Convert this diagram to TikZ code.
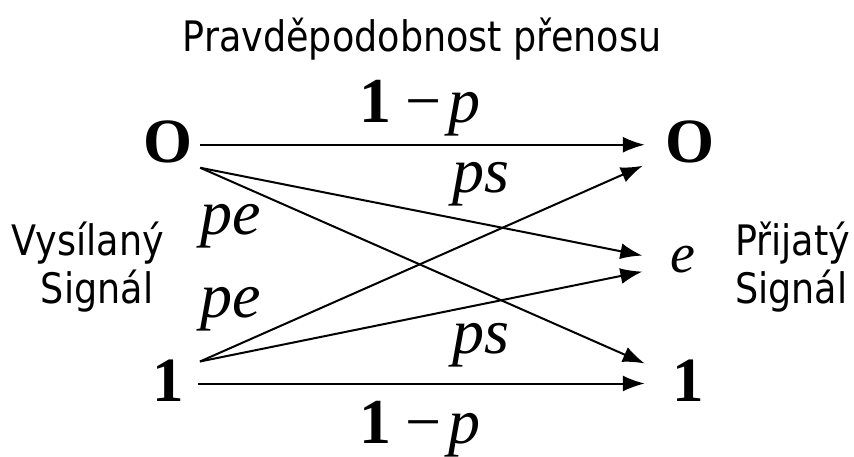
\documentclass[tikz,border=0pt]{standalone}
\usepackage{fontspec}
\setmainfont{Liberation Serif}
\newfontfamily\labsans[FakeStretch=0.87]{DejaVu Sans}
\usepackage{xcolor}
\usepackage{tikz}
\usetikzlibrary{arrows.meta,positioning,calc}
\tikzset{
  sym/.style={inner sep=0pt, anchor=base, font=\fontsize{63}{63}\selectfont\bfseries},
  prob/.style={inner sep=0pt, anchor=base, font=\fontsize{64}{64}\selectfont},
  caption/.style={inner sep=0pt, anchor=base, font=\fontsize{42}{48}\selectfont\labsans},
  arr/.style={-{Latex[length=22pt,width=16pt]}, line width=2pt},
}

\begin{document}
\begin{tikzpicture}[x=1pt,y=-1pt]
  \useasboundingbox (0,0) rectangle (854,457);
  % sent and received symbols
  \node[sym] (oL) at (168,163) {O};
  \node[sym] (iL) at (168,401) {1};
  \node[sym] (oR) at (690,163) {O};
  \node[sym] (iR) at (688,401) {1};
  \node[prob,font=\fontsize{56}{56}\selectfont\itshape] (er) at (683,272) {e};

  \node[caption] (title) at (422,52) {Pravděpodobnost přenosu};
  \node[caption] (sendA) at (88,255) {Vysílaný};
  \node[caption] (sendB) at (97,303) {Signál};
  \node[caption,anchor=base west] (recvA) at (735,255) {Přijatý};
  \node[caption,anchor=base west] (recvB) at (735,303) {Signál};

  % transitions
  \draw[arr] ([xshift=7.5pt,yshift=-2.3pt]oL.east) -- ([xshift=-20.5pt,yshift=-2.3pt]oR.west);
  \draw[arr] ([xshift=7.5pt,yshift=-25.3pt]oL.east) -- ([xshift=-28pt,yshift=3.5pt]er.west);
  \draw[arr] ([xshift=7.5pt,yshift=-25.3pt]oL.east) -- ([xshift=-27.25pt,yshift=16.7pt]iR.west);
  \draw[arr] ([xshift=16pt,yshift=18.7pt]iL.east) -- ([xshift=-22.5pt,yshift=-23.3pt]oR.west);
  \draw[arr] ([xshift=16pt,yshift=18.7pt]iL.east) -- ([xshift=-28pt,yshift=-12.5pt]er.west);
  \draw[arr] ([xshift=14pt,yshift=-3.3pt]iL.east) -- ([xshift=-27.25pt,yshift=-3.3pt]iR.west);

  \node[prob] (pTop) at (420,123) {\textbf{1}\hspace{14pt}−\hspace{6pt}\textit{p}};
  \node[prob] (pBot) at (420,443) {\textbf{1}\hspace{14pt}−\hspace{6pt}\textit{p}};
  \node[prob,anchor=base west] (peA) at (200,235) {\textit{pe}};
  \node[prob,anchor=base west] (peB) at (200,317) {\textit{pe}};
  \node[prob,anchor=base west] (psA) at (452,193) {\textit{ps}};
  \node[prob,anchor=base west] (psB) at (452,353) {\textit{ps}};
\end{tikzpicture}
\end{document}
